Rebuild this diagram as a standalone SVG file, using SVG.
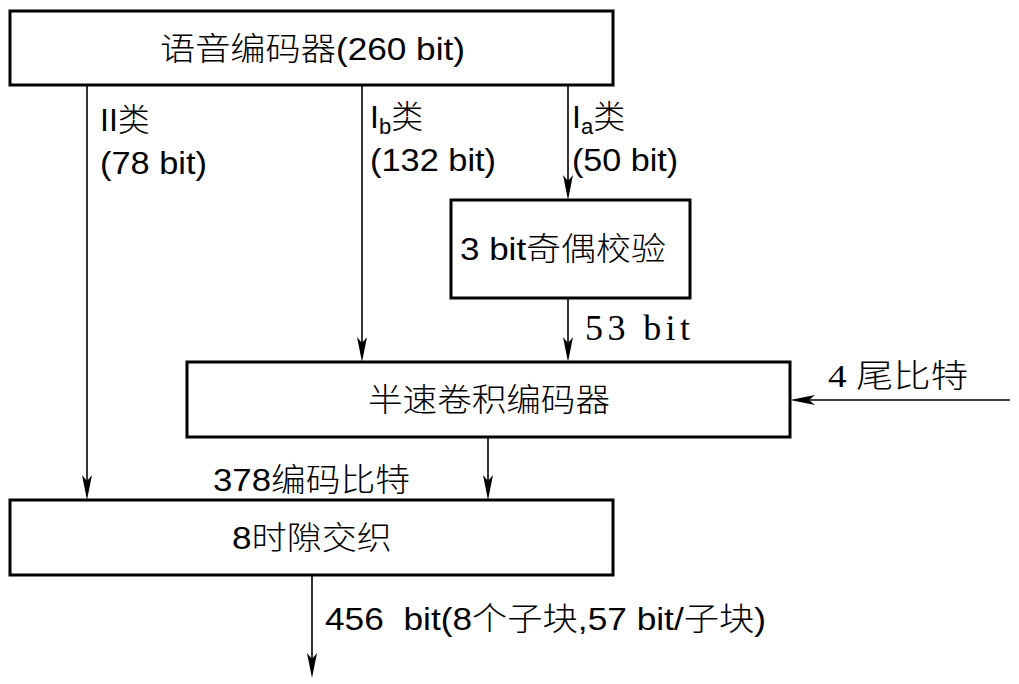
<svg xmlns="http://www.w3.org/2000/svg" width="1019" height="684" viewBox="0 0 1019 684">
<style>
.box{fill:#fff;stroke:#000;stroke-width:3}
.ln{stroke:#000;stroke-width:1.6;fill:none}
.s{font-family:"Liberation Sans","Noto Sans CJK SC",sans-serif;font-size:32px;fill:#000}
.k{font-family:"Noto Sans CJK SC",sans-serif;font-weight:300}
.c{font-family:"Noto Sans CJK SC",sans-serif;font-weight:300;font-size:32px;fill:#000}
.m{font-family:"Liberation Serif","Noto Sans CJK SC",serif;font-size:32px;fill:#000}
.m2{font-family:"Liberation Serif",serif;font-size:36px;fill:#000}
.ah{fill:#000}
</style>
<g id="connectors">
<path class="ln" d="M87,86 V490"/>
<path class="ln" d="M362,86 V352"/>
<path class="ln" d="M568,86 V190"/>
<path class="ln" d="M568,298 V352"/>
<path class="ln" d="M1010,400 H800"/>
<path class="ln" d="M488,437 V490"/>
<path class="ln" d="M312,576 V668"/>
<path class="ah" d="M82,475 L87,500 L92,475 L87,481 Z"/>
<path class="ah" d="M357,337 L362,362 L367,337 L362,343 Z"/>
<path class="ah" d="M563,175 L568,200 L573,175 L568,181 Z"/>
<path class="ah" d="M563,337 L568,362 L573,337 L568,343 Z"/>
<path class="ah" d="M815,395 L790,400 L815,405 L809,400 Z"/>
<path class="ah" d="M483,475 L488,500 L493,475 L488,481 Z"/>
<path class="ah" d="M307,653 L312,678 L317,653 L312,659 Z"/>
</g>
<g id="speech-encoder">
<rect class="box" x="10" y="11" width="603" height="74"/>
<text class="s" x="160" y="60" textLength="305" lengthAdjust="spacingAndGlyphs"><tspan class="k">语音编码器</tspan>(260 bit)</text>
</g>
<g id="parity">
<rect class="box" x="451" y="200" width="239" height="98"/>
<text class="s" x="460" y="260" textLength="206" lengthAdjust="spacingAndGlyphs">3 bit<tspan class="k">奇偶校验</tspan></text>
</g>
<g id="conv-encoder">
<rect class="box" x="187" y="362" width="603" height="75"/>
<text class="c" x="368" y="411" textLength="242" lengthAdjust="spacingAndGlyphs">半速卷积编码器</text>
</g>
<g id="interleaver">
<rect class="box" x="10" y="500" width="603" height="75"/>
<text class="s" x="232" y="549" textLength="160" lengthAdjust="spacingAndGlyphs">8<tspan class="k">时隙交织</tspan></text>
</g>
<g id="labels">
<text class="s" x="100" y="131">II<tspan class="k">类</tspan></text>
<text class="s" x="100" y="174" textLength="107" lengthAdjust="spacingAndGlyphs">(78 bit)</text>
<text class="s" x="370" y="128">I<tspan font-size="22" dy="6">b</tspan><tspan class="k" dy="-6">类</tspan></text>
<text class="s" x="370" y="171" textLength="126" lengthAdjust="spacingAndGlyphs">(132 bit)</text>
<text class="s" x="572" y="128">I<tspan font-size="22" dy="6">a</tspan><tspan class="k" dy="-6">类</tspan></text>
<text class="s" x="572" y="171" textLength="106" lengthAdjust="spacingAndGlyphs">(50 bit)</text>
<text class="m2" x="585" y="340" textLength="105" lengthAdjust="spacing">53 bit</text>
<text class="m" x="828" y="387" textLength="140" lengthAdjust="spacingAndGlyphs">4 <tspan class="k">尾比特</tspan></text>
<text class="s" x="213" y="491" textLength="197" lengthAdjust="spacingAndGlyphs">378<tspan class="k">编码比特</tspan></text>
<text class="s" x="325" y="630" textLength="441" lengthAdjust="spacingAndGlyphs" xml:space="preserve">456  bit(8<tspan class="k">个子块</tspan>,57 bit/<tspan class="k">子块</tspan>)</text>
</g>
</svg>
